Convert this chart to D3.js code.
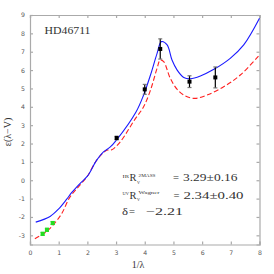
<!DOCTYPE html>
<html>
<head>
<meta charset="utf-8">
<script src="https://cdn.jsdelivr.net/npm/d3@7"></script>
<style>
  body { margin: 0; background: #fff; }
  svg { display: block; }
</style>
</head>
<body>
<svg id="chart" width="274" height="274"></svg>
<script>
// model curves (1/lambda, E(l-V))
let blue_x = [0.2, 0.7, 1.0, 1.28, 1.45, 1.74, 2.0, 2.32, 2.56, 2.79, 3.02, 3.7, 3.96, 4.2, 4.43, 4.58, 4.78, 4.95, 5.13, 5.36, 5.59, 5.94, 6.41, 6.98, 7.45, 8.0];
let blue_y = [-2.28, -1.97, -1.56, -1.03, -0.68, -0.18, 0.22, 1.08, 1.54, 1.8, 2.2, 3.73, 4.64, 5.73, 6.91, 7.55, 7.37, 6.55, 6.0, 5.6, 5.53, 5.68, 6.04, 6.64, 7.37, 8.82];

let red_x = [0.17, 0.58, 0.81, 1.1, 1.39, 1.68, 2.0, 2.32, 2.67, 2.85, 3.14, 3.65, 3.96, 4.2, 4.43, 4.54, 4.66, 4.89, 5.13, 5.42, 5.76, 6.17, 6.75, 7.33, 8.0];
let red_y = [-3.19, -2.79, -2.43, -1.83, -0.92, -0.37, 0.22, 1.08, 1.63, 1.66, 2.08, 3.3, 4.0, 4.91, 6.1, 6.55, 6.46, 5.55, 4.95, 4.59, 4.46, 4.64, 5.09, 5.73, 6.82];

// observed points
let uv_x = [3.02, 4.0, 4.54, 5.56, 6.46];
let uv_y = [2.3, 4.95, 7.15, 5.37, 5.6];
let uv_err = [0.1, 0.27, 0.55, 0.32, 0.57];

let ir_x = [0.44, 0.59, 0.79];
let ir_y = [-2.92, -2.7, -2.33];
let ir_err = [0.08, 0.08, 0.08];

let x_ticks = [0, 1, 2, 3, 4, 5, 6, 7, 8];
let y_ticks = [-3, -2, -1, 0, 1, 2, 3, 4, 5, 6, 7, 8, 9];

let chart = d3.select("#chart");
let margin = {top: 15, right: 14.5, bottom: 29.5, left: 30};
let width = 274 - margin.left - margin.right,
    height = 274 - margin.top - margin.bottom;

let x = d3.scaleLinear().domain([0, 8]).range([0, width]);
let y = d3.scaleLinear().domain([-3.5, 9]).range([height, 0]);

let g = chart.append("g")
    .attr("transform", "translate(" + margin.left + "," + margin.top + ")");

let axis_color = "#aaa";
let tick_font = "DejaVu Sans, sans-serif";

// axes
let ax_bottom = g.append("g")
    .attr("transform", "translate(0," + height + ")")
    .call(d3.axisBottom(x).tickValues(x_ticks).tickSize(-3).tickPadding(6).tickFormat(d3.format("d")));
let ax_left = g.append("g")
    .call(d3.axisLeft(y).tickValues(y_ticks).tickSize(-3).tickPadding(5).tickFormat(function(d){ return d < 0 ? "-" + (-d) : d; }));
let ax_top = g.append("g")
    .call(d3.axisTop(x).tickValues(x_ticks).tickSize(-3).tickFormat(""));
let ax_right = g.append("g")
    .attr("transform", "translate(" + width + ",0)")
    .call(d3.axisRight(y).tickValues(y_ticks).tickSize(-3).tickFormat(""));

[ax_bottom, ax_left, ax_top, ax_right].forEach(function(a){
    a.selectAll("path,line").attr("stroke", axis_color).attr("stroke-width", 1.2);
    a.selectAll("text").attr("fill", "#555").style("font-family", tick_font).style("font-size", "6.2px");
});

// curves
function pairs(xs, ys){ return xs.map(function(v, i){ return [v, ys[i]]; }); }
let line = d3.line()
    .x(function(d){ return x(d[0]); })
    .y(function(d){ return y(d[1]); })
    .curve(d3.curveCatmullRom.alpha(0.5));

g.append("path")
    .datum(pairs(red_x, red_y))
    .attr("d", line)
    .attr("fill", "none")
    .attr("stroke", "#ff2020")
    .attr("stroke-width", 1.1)
    .attr("stroke-dasharray", "5,2.5");

g.append("path")
    .datum(pairs(blue_x, blue_y))
    .attr("d", line)
    .attr("fill", "none")
    .attr("stroke", "#1a1aff")
    .attr("stroke-width", 1.1);

// error bars + markers
function draw_points(xs, ys, errs, color, cap_color){
    let data = xs.map(function(v, i){ return {x: v, y: ys[i], e: errs[i]}; });
    let pts = g.append("g").selectAll("g").data(data).enter().append("g");
    pts.append("line")
        .attr("x1", function(d){ return x(d.x); })
        .attr("x2", function(d){ return x(d.x); })
        .attr("y1", function(d){ return y(d.y - d.e); })
        .attr("y2", function(d){ return y(d.y + d.e); })
        .attr("stroke", color).attr("stroke-width", 1.2);
    [-1, 1].forEach(function(s){
        pts.append("line")
            .attr("x1", function(d){ return x(d.x) - 2; })
            .attr("x2", function(d){ return x(d.x) + 2; })
            .attr("y1", function(d){ return y(d.y + s * d.e); })
            .attr("y2", function(d){ return y(d.y + s * d.e); })
            .attr("stroke", cap_color).attr("stroke-width", 1.2);
    });
    pts.append("rect")
        .attr("x", function(d){ return x(d.x) - 2; })
        .attr("y", function(d){ return y(d.y) - 2; })
        .attr("width", 4).attr("height", 4)
        .attr("fill", color);
}
draw_points(uv_x, uv_y, uv_err, "#000", "#777");
draw_points(ir_x, ir_y, ir_err, "#22dd22", "#22dd22");

// labels
let serif = "Liberation Serif, DejaVu Serif, serif";
chart.append("text")
    .attr("x", 44.5).attr("y", 34)
    .attr("textLength", 46).attr("lengthAdjust", "spacingAndGlyphs")
    .style("font-family", serif).style("font-size", "11px").attr("fill", "#333")
    .text("HD46711");

chart.append("text")
    .attr("x", 138).attr("y", 268)
    .attr("text-anchor", "middle")
    .style("font-family", serif).style("font-size", "10px").attr("fill", "#333")
    .text("1/λ");

chart.append("text")
    .attr("transform", "translate(11,132) rotate(-90)")
    .attr("text-anchor", "middle")
    .style("font-family", serif).style("font-size", "10px").attr("fill", "#333")
    .text("ε(λ−V)");

// annotation block
let ann = chart.append("g").style("font-family", serif).attr("fill", "#333");
function small(txt, x0, y0, len){
    ann.append("text").attr("x", x0).attr("y", y0)
        .attr("textLength", len).attr("lengthAdjust", "spacingAndGlyphs")
        .style("font-size", "5px").text(txt);
}
function big(txt, x0, y0, len, size){
    ann.append("text").attr("x", x0).attr("y", y0)
        .attr("textLength", len).attr("lengthAdjust", "spacingAndGlyphs")
        .style("font-size", size + "px").text(txt);
}
// row 1
small("IR", 122.5, 177.5, 6.5);
big("R", 129.5, 181, 7, 10);
small("2MASS", 138.5, 176.5, 17);
small("V", 137, 183.5, 3);
big("=", 173, 181, 6, 10);
big("3.29±0.16", 183, 181, 54.5, 10);
// row 2
small("UV", 122.5, 195, 6.5);
big("R", 129.5, 198.5, 7, 10);
small("Wagner", 138.5, 194, 21);
small("V", 137, 201, 3);
big("=", 173.5, 198.5, 6, 10);
big("2.34±0.40", 183.5, 198.5, 60, 10);
// row 3
big("δ", 122, 215, 6, 10);
big("=", 129, 215, 6, 10);
big("−2.21", 146, 215, 37, 10);
</script>
</body>
</html>
